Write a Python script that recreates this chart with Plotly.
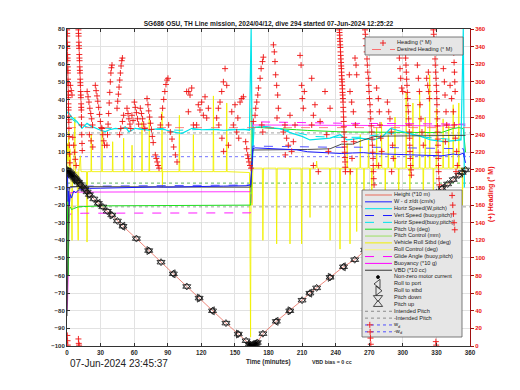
import plotly.graph_objects as go

# ---------------- texts / ticks ----------------
title_text = "SG686 OSU, TH Line mission, 2024/04/12, dive 294 started 07-Jun-2024 12:25:22"
date_text = "07-Jun-2024 23:45:37"
xlabel_text = "Time (minutes)"
vbd_bias_text = "VBD bias = 0 cc"
hdg_label = "(+) Heading (° M)"
x_ticks = [0, 30, 60, 90, 120, 150, 180, 210, 240, 270, 300, 330, 360]
y_ticks = [-100, -90, -80, -70, -60, -50, -40, -30, -20, -10, 0, 10, 20, 30, 40, 50, 60, 70, 80]
hdg_ticks = [0, 20, 40, 60, 80, 100, 120, 140, 160, 180, 200, 220, 240, 260, 280, 300, 320, 340, 360]

# ---------------- depth (Height *10 m) ----------------
depth_t = [0, 1, 2, 3, 4, 5, 6, 7, 8, 9, 10, 12, 14, 16, 18, 20, 24, 28, 32, 36, 40, 45, 50, 62, 73, 84,
           95, 107, 118, 130, 142, 153, 160, 163, 164, 165, 166, 167, 168, 169, 170, 175, 187, 199, 210, 217,
           223, 235, 247, 257, 266, 270, 275, 280, 285, 290, 295, 300, 305, 310, 315, 320, 325, 330, 335, 340,
           345, 350, 353, 356]
depth_v = [0, -0.5, -1.2, -2, -2.7, -3.4, -4.1, -4.8, -5.5, -6.2, -7, -8.3, -9.6, -11, -12.5, -14, -16.5, -19,
           -21, -23.5, -25.6, -29, -32, -39, -45.8, -52.4, -59, -66.2, -72.8, -80, -87, -93.2, -97, -98.8, -99.5,
           -100, -99.8, -99.5, -99, -98.5, -98, -93, -86, -80, -74, -70, -67, -61, -55, -51, -45.5, -43.5, -41,
           -38.5, -36, -33.5, -31, -28.5, -26, -23, -20.5, -18, -15.5, -13, -10.5, -8, -5.5, -3, -1.5, 0]
roll_port_t = [5, 12, 28, 50, 95, 130, 187, 217, 247, 285, 310, 335]
roll_stbd_t = [3, 8, 20, 40, 73, 118, 153, 199, 235, 266, 300, 325]
motor_t = [0, 1, 2, 3, 4, 5, 163, 164, 165, 166, 167, 168, 169]

# ---------------- common time grid for engineering series ----------------
t_grid = [0, 0.5, 1, 1.5, 2, 3, 4, 6, 8, 10, 15, 20, 30, 40, 50, 60, 70, 80, 90, 100, 110, 120, 130, 140,
          150, 160, 164, 165, 166, 168, 175, 185, 195, 205, 215, 225, 235, 245, 255, 265, 275, 285, 295, 305,
          315, 325, 335, 345, 350, 354, 356]
w_speed = [0, -5, -18, -12, -20, -14, -16, -12, -13, -11.5,
           -11, -10.5, -10.4, -10.2, -10, -10, -9.8, -9.7, -9.8, -9.6,
           -9.5, -9.5, -9.4, -9.2, -9.1, -9, -8.5, 0, 12, 12.5,
           12.3, 12, 11.8, 11.4, 10.3, 10, 9.6, 9.3, 9.6, 9.8,
           9.2, 9, 8.6, 8.5, 8.3, 8.4, 8, 9, 8.5, 9.5, 4]
vert_buoy = [0, -3, -8, -10, -11, -10, -10, -9.6, -9.5, -9.4,
             -9.3, -9.2, -9.2, -9.1, -9.1, -9.0, -9.0, -8.9, -8.9, -8.8,
             -8.8, -8.8, -8.7, -8.7, -8.6, -8.6, -8.6, 2, 13.5, 13.5,
             13.4, 13.3, 13.2, 13.1, 13, 12.9, 12.8, 12.8, 12.9, 13,
             13, 12.8, 12.6, 12.5, 12.4, 12.3, 12.2, 12, 12, 12, 6]
vbd = [-83, -70, -40, -20, -10, -9.5, -9.5, -9.6, -9.6, -9.7,
       -9.7, -9.7, -9.8, -9.8, -9.8, -9.8, -9.8, -9.8, -9.8, -9.8,
       -9.8, -9.8, -9.8, -9.8, -9.8, -9.8, -9.8, 0, 11.3, 11.3,
       11.3, 11.4, 11.4, 11.5, 11.6, 11.8, 12, 14.6, 14.6, 17,
       19, 19.2, 19.3, 19.4, 19.4, 19.5, 19.5, 19.6, 19.6, 19.6, 19.6]
pitch = [0, -30, -60, -40, -22, -21, -22.5, -22, -21.5, -21,
         -20.8, -20.6, -20.5, -20.4, -20.4, -20.3, -20.3, -20.2, -20.2, -20.1,
         -20.1, -20, -20, -20, -20, -20, -20, 0, 24, 24.2,
         24, 23.6, 23.2, 22.8, 22.4, 22, 21.8, 21.6, 21.5, 21.4,
         21.5, 21.4, 21.3, 21.3, 21.2, 21.2, 21.3, 23.5, 24, 23.5, 10]
buoyancy = [-80, -75, -62, -35, -18, -13, -12.8, -12.7, -12.6, -12.6,
            -12.5, -12.5, -12.5, -12.4, -12.4, -12.4, -12.4, -12.4, -12.4, -12.4,
            -12.4, -12.4, -12.4, -12.4, -12.4, -12.4, -12.4, 0, 25.5, 25.5,
            25.5, 25.4, 25.4, 25.4, 25.3, 25.3, 25.3, 25.2, 25.2, 25.2,
            25.2, 25.1, 25.1, 25.1, 25.1, 25, 25, 25.5, 25.8, 25.5, 25]
glide = [0, -10, -30, -28, -26, -25, -25, -24.8, -24.8, -24.7,
         -24.6, -24.6, -24.5, -24.5, -24.5, -24.5, -24.5, -24.5, -24.5, -24.5,
         -24.4, -24.4, -24.4, -24.4, -24.4, -24.4, -24.4, 0, 27.5, 27.3,
         27.2, 27, 26.9, 26.8, 26.7, 26.6, 26.5, 26.5, 26.4, 26.4,
         26.4, 26.3, 26.3, 26.2, 26.2, 26.2, 26.1, 26, 26, 26, 26]

# Horizontal speed (W, pitch)
cyan_t = [0, 1, 4, 9, 13.4, 17.9, 21, 25.3, 30, 34.2, 38, 43.2, 48, 52.1, 55.1, 58, 61, 67, 73, 79, 84.9, 89,
          93.8, 98, 102.8, 107, 111.7, 120, 130, 140, 150, 158, 163, 164.5, 165.5, 167, 172, 180, 190, 200, 210,
          217, 226, 235, 244, 250, 256, 262, 268, 274, 282, 289, 295, 301, 307, 316, 325, 331, 337, 343, 349,
          352, 354, 355]
cyan_v = [32, 33, 30, 27.4, 23.6, 26.4, 25, 23.6, 22.5, 21.7,
          22.8, 23.6, 23.2, 24.5, 21.7, 22.5, 23.6, 23, 22.6, 23.2,
          23.6, 22.5, 21.7, 21.2, 20.8, 22, 23.6, 22.8, 23, 22.5,
          22.8, 23, 22.5, 80, 2, 24, 24.5, 24, 23.5, 21,
          19, 17, 17.5, 18, 20, 17, 17.5, 18, 17.5, 17,
          19, 23.6, 22.5, 21.5, 20.5, 19, 17, 16.5, 16, 16.5,
          17, 17, 80, -10]
# Horizontal speed (buoy, pitch)
hbuoy_t = [2, 10, 20, 40, 60, 80, 100, 120, 140, 160, 164, 167, 180, 200, 220, 240, 260, 280, 300, 320, 340, 352]
hbuoy_v = [30, 26, 24, 23.5, 23.5, 23, 22.5, 23, 22.8, 23, 23, 25, 24.5, 22, 19, 18.5, 18.5, 20, 21.5, 18.5, 17.5, 17.5]

# Vehicle roll (deg): (time, value)
roll_points = [
    (0, 0), (0.5, 15), (1, 5), (1.5, 22), (2, 0), (2.5, 12), (3, 10), (3.5, -3), (4.5, -40), (5, -2),
    (6, -1), (7, 30), (7.5, -2), (9, -1), (10, -40), (10.5, -1), (12, 8), (12.5, -1), (17.5, -1), (17.9, -41),
    (18.3, -1), (21.4, -1), (21.7, 20), (22.0, -1), (31.0, -1), (31.3, 22), (31.6, -1), (40.5, -1), (40.8, 16),
    (41.1, -1), (50.3, -1), (50.6, 18), (50.9, -1), (57.8, -1), (58.1, 14), (58.4, -1), (66.7, -1), (67.0, 27),
    (67.3, -1), (73.2, -1), (73.5, 29), (73.8, -1), (84.6, -1), (84.9, 33), (85.2, -10), (85.5, -1),
    (100.1, -1), (100.4, 31), (100.7, -1), (112.6, -1), (112.9, 20), (113.2, -1), (130.5, -1), (130.8, 42),
    (131.1, -1), (142.4, -1), (142.7, 38), (143.0, -1), (163.0, -1.5), (164.0, -95), (164.6, 35), (165.3, -20),
    (166, 1), (174.5, 1), (175, -40), (175.5, 1), (186.8, 1), (187.3, -42), (187.8, 1), (198.7, 1), (199.2, -42),
    (199.7, 1), (209.1, 1), (209.6, -42), (210.1, 1), (216.6, 1), (217.1, -27), (217.6, 1), (222.5, 1), (223, 5),
    (223.5, 1), (234.5, 1), (235, -40), (235.5, 1), (243.4, 1), (243.9, -45), (244.4, 1), (250, 1), (250.3, 15),
    (250.6, 1), (252.5, 1), (252.8, -42), (253.1, 1), (258.5, 1), (258.8, -35), (259.1, 1), (261.7, 1), (262, 20),
    (262.3, 1), (265, 1), (265.3, -30), (265.6, 1), (269, 1), (269.3, 18), (269.6, 1), (272, 1), (272.3, -30),
    (272.6, 1), (276.3, 1), (276.6, 24), (276.9, 1), (280.7, 1), (281, 27), (281.3, 1), (284, 1), (284.3, -25),
    (284.6, 1), (286.7, 1), (287, 20), (287.3, 1), (292.7, 1), (293, 30), (293.3, 1), (296, 1), (296.3, -30),
    (296.6, 1), (302.7, 1), (303, 44), (303.3, 1), (306, 1), (306.3, -25), (306.6, 1), (308.7, 1), (309, 38),
    (309.3, 1), (314.7, 1), (315, 44), (315.3, 1), (318, 1), (318.3, -28), (318.6, 1), (319.7, 1), (320, 30),
    (320.3, 1), (323.7, 1), (324, 54), (324.3, 1), (327, 1), (327.3, -25), (327.6, 1), (329.7, 1), (330, 35),
    (330.3, 1), (335.7, 1), (336, 29), (336.3, 1), (340.7, 1), (341, 25), (341.3, 1), (344.7, 1), (345, 37),
    (345.3, 1), (349.7, 1), (350, 38), (350.3, 1), (353, 1), (353.3, -20), (353.6, 1), (357, 1)]

# reference lines
intended_pitch = 21
w_d = 7.5
desired_heading = 248

# Heading (deg M): (time, heading)
heading_points = [
    (0.1, 359), (0.2, 352), (0.3, 345), (0.4, 338), (0.5, 331), (0.6, 324), (0.7, 317), (0.8, 310), (0.9, 303),
    (1.0, 296), (1.1, 289), (1.2, 282), (1.3, 275), (1.4, 268), (1.5, 261), (1.6, 254), (1.7, 247), (1.9, 238),
    (2.1, 228), (2.3, 218), (2.5, 208), (0.15, 355), (0.35, 341), (0.55, 327), (0.75, 313), (0.95, 299),
    (1.15, 285), (1.35, 271), (1.55, 257),
    (3.0, 296), (3.8, 290), (4.5, 285), (5.2, 237), (6.0, 228), (6.8, 220), (7.4, 212), (8.2, 205),
    (10.2, 359), (10.4, 352), (10.6, 345), (10.8, 338), (11.0, 331), (11.2, 324), (11.4, 317), (11.6, 310),
    (11.8, 303), (12.0, 296), (12.2, 289), (12.4, 282), (12.6, 275), (12.8, 268), (13.0, 251), (13.2, 240),
    (13.4, 230), (13.6, 222), (10.3, 355), (10.7, 341), (11.1, 327), (11.5, 313), (11.9, 299), (12.3, 285),
    (12.7, 271), (12.9, 260),
    (18.0, 289), (18.8, 283), (19.6, 277), (20.4, 270), (21.2, 264), (22.0, 258), (22.8, 251), (20.0, 240),
    (21.5, 233), (23.0, 226),
    (25.3, 296), (26.0, 290), (26.8, 284), (27.5, 278), (28.3, 271), (29.0, 263), (29.8, 255), (30.5, 248),
    (31.3, 247), (32.0, 240), (32.8, 233), (33.5, 228),
    (35.7, 228), (36.2, 240), (36.7, 252), (37.2, 264), (37.7, 276), (38.2, 288), (38.7, 300), (39.2, 310),
    (39.7, 316), (40.2, 319),
    (44.7, 270), (45.3, 278), (45.9, 286), (46.5, 294), (47.1, 302), (47.7, 310), (48.3, 318), (48.9, 324),
    (49.5, 327), (47.0, 240), (48.0, 247), (49.5, 255), (50.6, 262),
    (53.6, 270), (54.5, 264), (55.3, 258), (56.2, 252), (57.0, 247), (58.0, 262), (59.0, 256),
    (60.2, 277), (61.0, 271), (62.0, 265), (63.0, 258), (64.0, 252),
    (65.5, 270), (66.5, 264), (67.5, 258), (68.5, 252), (69.5, 247),
    (71.5, 281), (72.3, 274), (73.0, 267), (73.8, 260), (74.6, 253), (75.4, 246), (76.2, 238), (77.0, 231),
    (78.9, 217), (79.8, 213), (80.6, 209), (81.4, 205), (82.2, 202),
    (83.4, 251), (84.4, 260), (85.4, 270), (86.4, 280), (87.4, 289), (88.4, 297), (89.3, 302), (90.2, 304),
    (90.8, 251), (92.3, 243), (93.8, 235), (95.3, 226), (96.8, 217), (98.3, 209),
    (108.7, 289),
    (106.9, 289), (108.4, 266), (109.9, 285), (111.4, 293), (112.9, 251),
    (115.8, 251), (117.3, 274), (118.8, 268), (120.3, 277), (121.8, 262), (123.3, 283), (124.8, 259), (126.3, 270),
    (133.7, 259), (135.2, 270), (136.7, 277), (138.2, 289), (139.7, 300), (141.2, 315), (142.7, 296),
    (135.6, 251), (138.4, 236), (139.9, 221), (144.2, 228),
    (147.2, 266), (150.1, 274), (152.6, 259), (154.6, 277), (156.1, 281), (157.6, 283), (148.6, 251),
    (151.6, 243), (153.4, 236),
    (159.6, 232), (160.5, 224), (161.4, 217), (162.0, 213), (162.6, 209), (163.5, 205), (164.4, 202),
    (166.5, 255), (168.0, 262), (168.6, 270), (169.5, 277), (170.4, 285), (171.0, 293), (172.5, 304),
    (173.4, 315), (174.6, 323), (175.4, 328), (174.0, 251), (174.9, 243),
    (184.4, 342), (185.2, 334), (185.8, 323), (186.4, 308), (187.3, 296), (188.2, 285), (188.8, 270), (187.6, 259),
    (193.2, 243), (194.7, 251), (196.2, 236), (197.7, 228), (200.7, 221), (202.2, 232), (195.0, 217),
    (199.2, 262), (203.7, 251),
    (208.2, 330), (209.1, 319), (209.6, 296), (210.2, 281), (211.1, 270), (212.0, 289),
    (220.1, 262), (218.6, 251),
    (218.6, 304), (221.5, 274), (226.1, 255), (230.5, 289), (232.0, 240), (233.5, 221), (220.1, 205),
    (224.5, 198), (235.0, 270),
    (243.3, 359), (243.6, 353), (243.9, 346), (244.2, 339), (244.5, 330), (244.8, 322), (245.1, 315),
    (245.4, 307), (245.7, 300), (246.0, 292), (246.3, 285), (246.6, 277), (246.9, 266), (247.2, 255),
    (247.5, 243), (247.8, 232), (248.1, 220), (248.4, 209), (248.7, 198),
    (243.45, 356), (243.75, 349), (244.05, 342), (244.35, 334), (244.65, 326), (244.95, 318), (245.25, 311),
    (245.55, 303), (245.85, 296), (246.15, 288), (246.45, 281), (246.75, 271), (247.05, 260), (247.35, 249),
    (247.65, 237), (247.95, 226), (248.25, 214), (248.55, 203),
    (252.2, 308), (252.8, 289), (254.3, 277), (255.8, 266), (257.3, 327), (258.2, 319), (258.8, 308),
    (257.6, 251), (256.1, 232), (254.6, 213), (253.1, 198),
    (266.2, 359), (266.8, 349), (267.7, 334), (268.3, 319), (269.2, 304), (269.8, 289), (270.7, 274),
    (271.3, 258), (272.2, 243), (272.8, 228), (273.4, 213), (273.7, 198), (274.3, 183),
    (266.5, 354), (267.2, 341), (268.0, 326), (268.7, 311), (269.5, 296), (270.2, 281), (271.0, 266),
    (271.8, 250), (272.5, 235), (273.1, 220), (273.55, 205), (274.0, 190),
    (276.6, 293), (278.1, 281), (279.0, 266), (279.6, 251), (280.2, 236), (281.1, 221), (278.4, 205),
    (286.2, 277), (287.4, 266), (288.5, 258), (289.7, 243), (290.9, 228), (291.5, 213), (290.0, 198),
    (296.9, 327), (297.5, 315), (298.1, 304), (299.0, 293), (299.9, 289),
    (302.0, 342), (302.5, 327), (303.1, 311), (303.7, 296), (304.3, 281), (304.9, 266), (305.5, 251),
    (306.1, 236), (306.4, 221), (307.0, 205), (307.6, 194),
    (302.2, 334), (302.8, 319), (303.4, 303), (304.0, 288), (304.6, 273), (305.2, 258), (305.8, 243),
    (306.2, 228), (306.7, 213), (307.3, 200),
    (313.0, 319), (313.9, 304), (314.8, 289), (315.4, 274), (316.2, 258), (317.1, 243), (318.3, 228),
    (321.3, 304), (322.2, 296), (322.8, 311), (323.1, 289), (323.7, 281),
    (327.3, 359), (327.9, 349), (328.5, 334), (329.0, 319), (329.6, 304), (330.2, 289), (330.5, 274),
    (330.8, 258), (331.1, 243), (331.4, 228), (331.7, 213), (332.0, 198), (332.6, 183),
    (327.6, 354), (328.2, 341), (328.8, 326), (329.3, 311), (329.9, 296), (330.35, 281), (330.65, 266),
    (330.95, 250), (331.25, 235), (331.55, 220), (331.85, 205), (332.3, 190),
    (336.2, 315), (337.1, 300), (337.7, 285), (338.6, 266), (339.2, 251), (338.0, 232),
    (342.2, 296), (343.6, 281), (345.1, 266), (346.0, 251), (346.9, 236), (348.1, 221), (348.7, 205),
    (347.5, 198), (345.5, 333), (345.8, 322), (346.1, 311), (346.4, 300), (346.7, 289),
    (0.3, 12), (0.5, 6), (0.7, 1), (10.2, 8), (10.5, 3), (10.8, 1), (270.5, 24), (270.8, 16), (271.1, 9),
    (271.4, 2), (329.5, 5), (329.8, 1), (344.0, 171), (344.6, 160), (345.2, 150), (345.8, 140), (346.4, 132)]

# legend contents
leg2_labels = ["Height (*10 m)", "W - d z/dt (cm/s)", "Horiz Speed(W,pitch)", "Vert Speed (buoy,pitch)",
               "Horiz Speed(buoy,pitch)", "Pitch Up (deg)", "Pitch Control (mm)", "Vehicle Roll Stbd (deg)",
               "Roll Control (deg)", "Glide Angle (buoy,pitch)", "Buoyancy (*10 g)", "VBD (*10 cc)",
               "Non-zero motor current", "Roll to port", "Roll to stbd", "Pitch down", "Pitch up",
               "Intended Pitch", "-Intended Pitch", "w<sub>d</sub>", "-w<sub>d</sub>"]
leg1_labels = ["Heading (° M)", "Desired Heading (° M)"]

# ---------------- colours ----------------
C_DEPTH = '#e86a5a'
C_BLUE = '#1a1aff'
C_CYAN = '#00e3ea'
C_GREEN = '#1ee01e'
C_PCTL = '#9be060'
C_YEL = '#f0f000'
C_RCTL = '#f7f780'
C_MAG = '#ff00ff'
C_VBD = '#383838'
C_RED = '#ee1111'
C_GRAY = '#8c8c8c'

leg2_style = [
    ('line', C_DEPTH, 'solid'), ('line', C_BLUE, 'solid'), ('line', C_CYAN, 'solid'), ('line', C_BLUE, 'dash'),
    ('line', C_CYAN, 'dash'), ('line', C_GREEN, 'solid'), ('line', C_PCTL, 'solid'), ('line', C_YEL, 'solid'),
    ('line', C_RCTL, 'solid'), ('line', C_MAG, 'dash'), ('line', C_MAG, 'solid'), ('line', C_VBD, 'solid'),
    ('marker', 'black', 'circle'), ('marker', '#222', 'triangle-left-open'),
    ('marker', '#222', 'triangle-right-open'), ('marker', '#222', 'triangle-down-open'),
    ('marker', '#222', 'triangle-up-open'), ('line', C_GRAY, 'dot'), ('line', C_GRAY, 'dot'),
    ('line', '#5050ff', 'dot'), ('line', '#5050ff', 'dot')]

FONT = 'Liberation Sans'
fig = go.Figure()


def line(x, y, color, width=1.0, dash='solid', xa='x', ya='y'):
    fig.add_trace(go.Scatter(x=x, y=y, mode='lines', xaxis=xa, yaxis=ya, hoverinfo='skip',
                             line=dict(color=color, width=width, dash=dash), showlegend=False))


# ---- main subplot ----
line([0, 360], [intended_pitch, intended_pitch], C_GRAY, 0.8, 'dot')
line([0, 360], [-intended_pitch, -intended_pitch], C_GRAY, 0.8, 'dot')
line([0, 360], [w_d, w_d], '#5050ff', 0.8, 'dot')
line([0, 360], [-w_d, -w_d], '#30a030', 0.8, 'dot')
line([p[0] for p in roll_points], [p[1] for p in roll_points], C_YEL, 0.9)
line(t_grid, glide, C_MAG, 0.9, 'dash')
line(t_grid, buoyancy, C_MAG, 0.8)
line(t_grid, pitch, C_GREEN, 1.0)
line(hbuoy_t, hbuoy_v, C_CYAN, 1.0, 'dash')
line(cyan_t, cyan_v, C_CYAN, 1.2)
line(t_grid, vert_buoy, '#3d3dff', 0.9, 'dash')
line(t_grid, vbd, C_VBD, 0.9)
line(t_grid, w_speed, C_BLUE, 1.0)
line(depth_t, depth_v, C_DEPTH, 0.8)
depth_lookup = dict(zip(depth_t, depth_v))
for sym in ['triangle-up-open', 'triangle-down-open']:
    fig.add_trace(go.Scatter(x=depth_t, y=depth_v, mode='markers', hoverinfo='skip', showlegend=False,
                             marker=dict(symbol=sym, size=7, color='#111', line=dict(color='#111', width=0.8))))
fig.add_trace(go.Scatter(x=roll_port_t, y=[depth_lookup[t] for t in roll_port_t], mode='markers',
                         hoverinfo='skip', showlegend=False,
                         marker=dict(symbol='triangle-left-open', size=7, color='#111', line=dict(color='#111', width=0.8))))
fig.add_trace(go.Scatter(x=roll_stbd_t, y=[depth_lookup[t] for t in roll_stbd_t], mode='markers',
                         hoverinfo='skip', showlegend=False,
                         marker=dict(symbol='triangle-right-open', size=7, color='#111', line=dict(color='#111', width=0.8))))
fig.add_trace(go.Scatter(x=motor_t, y=[depth_lookup[t] for t in motor_t], mode='markers', hoverinfo='skip',
                         showlegend=False, marker=dict(symbol='circle', size=3, color='black')))

# ---- legend 2 (pixel-space overlay, below heading) ----
box2 = (362, 462, 190, 337)
line([box2[0], box2[1], box2[1], box2[0], box2[0]], [box2[2], box2[2], box2[3], box2[3], box2[2]],
     '#5a5a5a', 0.8, xa='x2', ya='y2')
fig.data[-1].update(fill='toself', fillcolor='#e6e6e6')
row_y = [195 + i * 6.84 for i in range(len(leg2_labels))]
for (kind, col, sty), yy in zip(leg2_style, row_y):
    if kind == 'line':
        line([365, 392], [yy, yy], col, 1.0, sty, xa='x2', ya='y2')
    else:
        size = 3 if sty == 'circle' else 8
        fig.add_trace(go.Scatter(x=[378], y=[yy], xaxis='x2', yaxis='y2', mode='markers', hoverinfo='skip',
                                 showlegend=False,
                                 marker=dict(symbol=sty, size=size, color=col, line=dict(color=col, width=0.8))))
fig.add_trace(go.Scatter(x=[394] * len(leg2_labels), y=row_y, text=leg2_labels, mode='text', xaxis='x2',
                         yaxis='y2', textposition='middle right', hoverinfo='skip', showlegend=False,
                         textfont=dict(family=FONT, size=5.6, color='#1a1a1a')))

# ---- heading (right axis) ----
line([0, 360], [desired_heading, desired_heading], '#ff5050', 0.7, 'dash', xa='x3', ya='y3')
fig.add_trace(go.Scatter(x=[p[0] for p in heading_points], y=[p[1] for p in heading_points], mode='markers',
                         xaxis='x3', yaxis='y3', hoverinfo='skip', showlegend=False,
                         marker=dict(symbol='cross-thin-open', size=4.3, color=C_RED,
                                     line=dict(color=C_RED, width=0.9))))

# ---- legend 1 (top) ----
box1 = (365, 463, 37, 55)
line([box1[0], box1[1], box1[1], box1[0], box1[0]], [box1[2], box1[2], box1[3], box1[3], box1[2]],
     '#5a5a5a', 0.8, xa='x4', ya='y4')
fig.data[-1].update(fill='toself', fillcolor='#e6e6e6')
fig.add_trace(go.Scatter(x=[383], y=[43], xaxis='x4', yaxis='y4', mode='markers', hoverinfo='skip',
                         showlegend=False,
                         marker=dict(symbol='cross-thin-open', size=4.3, color=C_RED, line=dict(color=C_RED, width=0.9))))
line([372, 395], [49.5, 49.5], '#ff5050', 0.8, 'dash', xa='x4', ya='y4')
fig.add_trace(go.Scatter(x=[397, 397], y=[43, 49.5], text=leg1_labels, mode='text', xaxis='x4', yaxis='y4',
                         textposition='middle right', hoverinfo='skip', showlegend=False,
                         textfont=dict(family=FONT, size=5.6, color='#1a1a1a')))

tickfont = dict(family=FONT, size=6, weight='bold', color='#2a2a2a')
fig.update_layout(
    width=520, height=390, margin=dict(l=67, r=50, t=29, b=44),
    paper_bgcolor='white', plot_bgcolor='white', showlegend=False,
    font=dict(family=FONT, size=6, color='#2a2a2a'),
    title=dict(text=title_text, x=0.5, xref='paper', xanchor='center', y=1 - 24 / 390, yref='container',
               yanchor='middle', font=dict(family=FONT, size=6.6, weight='bold', color='#202020')),
    xaxis=dict(range=[0, 360], tickvals=x_ticks, ticks='inside', ticklen=3, tickcolor='#333', showline=True,
               linecolor='#333', linewidth=1, mirror='ticks', showgrid=True, gridcolor='#e2e2e2', gridwidth=1,
               zeroline=False, tickfont=dict(family=FONT, size=6.3, weight='bold', color='#2a2a2a')),
    yaxis=dict(range=[-100, 80], tickvals=y_ticks, ticks='inside', ticklen=3, tickcolor='#333', showline=True,
               linecolor='#333', linewidth=1, showgrid=True, gridcolor='#e2e2e2', gridwidth=1, zeroline=False,
               tickfont=tickfont),
    xaxis2=dict(overlaying='x', range=[67, 470], visible=False),
    yaxis2=dict(overlaying='y', range=[346, 29], visible=False),
    xaxis3=dict(overlaying='x', range=[0, 360], visible=False),
    yaxis3=dict(overlaying='y', side='right', anchor='x3', range=[0, 360], tickvals=hdg_ticks, ticks='outside',
                ticklen=3, tickcolor='#a01010', showline=True, linecolor='#a01010', linewidth=1, showgrid=False,
                zeroline=False, tickfont=dict(family=FONT, size=6, weight='bold', color=C_RED)),
    xaxis4=dict(overlaying='x', range=[67, 470], visible=False),
    yaxis4=dict(overlaying='y', range=[346, 29], visible=False),
    annotations=[
        dict(text=date_text, x=(68 - 67) / 403, y=(346 - 363) / 317, xref='paper', yref='paper', xanchor='left',
             yanchor='middle', showarrow=False, font=dict(family=FONT, size=10, color='#222')),
        dict(text=xlabel_text, x=0.5, y=(346 - 362) / 317, xref='paper', yref='paper', xanchor='center',
             yanchor='middle', showarrow=False, font=dict(family=FONT, size=6.3, weight='bold', color='#2a2a2a')),
        dict(text=vbd_bias_text, x=(332 - 67) / 403, y=(346 - 362) / 317, xref='paper', yref='paper',
             xanchor='center', yanchor='middle', showarrow=False,
             font=dict(family=FONT, size=5.3, weight='bold', color='#2a2a2a')),
        dict(text=hdg_label, x=(491 - 67) / 403, y=(346 - 194) / 317, xref='paper', yref='paper',
             xanchor='center', yanchor='middle', textangle=-90, showarrow=False,
             font=dict(family=FONT, size=7, weight='bold', color=C_RED)),
    ],
)

fig.write_html("out.html", config={'displayModeBar': False},
               post_script="document.body.style.margin='0px';document.body.style.overflow='hidden';")
